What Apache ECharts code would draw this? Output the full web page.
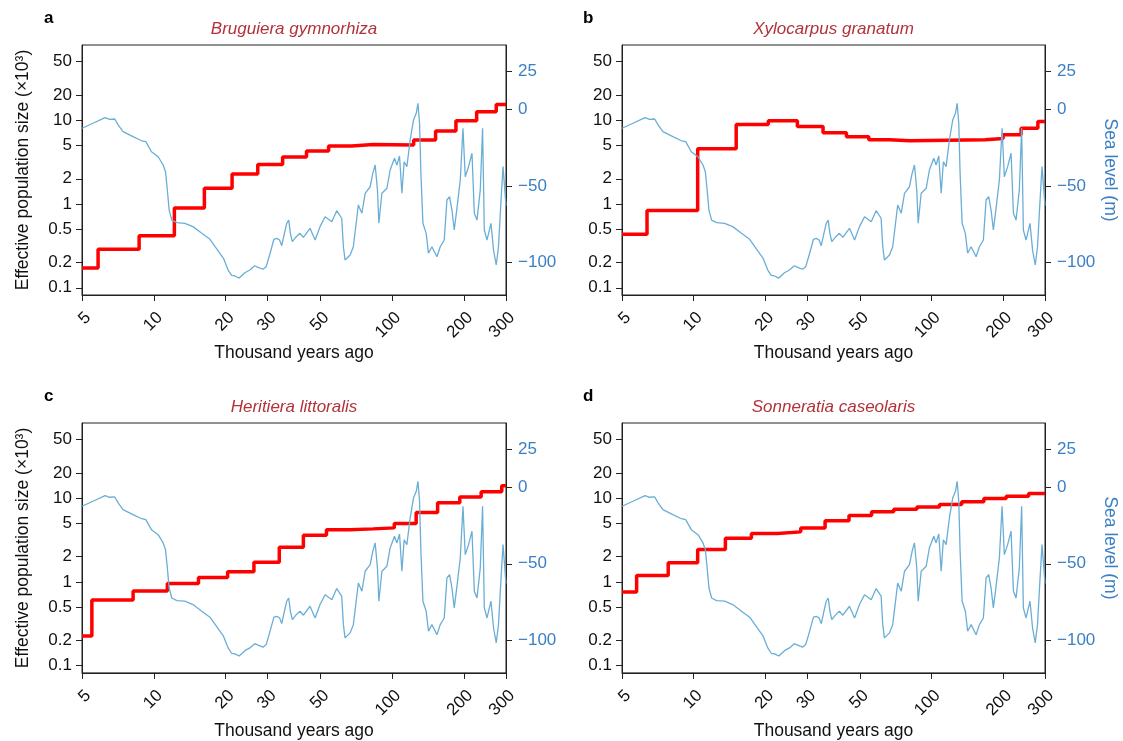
<!DOCTYPE html>
<html><head><meta charset="utf-8">
<script src="https://cdn.jsdelivr.net/npm/echarts@6/dist/echarts.min.js"></script>
<style>html,body{margin:0;padding:0;background:#fff}#c{width:1123px;height:741px}</style>
</head><body><div id="c"></div>
<script>
// ---- tick labels ----
const xTicks = [5, 10, 20, 30, 50, 100, 200, 300];
const neTicks = [0.1, 0.2, 0.5, 1, 2, 5, 10, 20, 50];
const seaTicks = [25, 0, -50, -100];

// ---- sea level curve (thousand years ago, metres) ----
const seaTime = [5,5.56,6.25,6.53,6.86,7.09,7.43,8.18,8.89,9.26,9.78,10.43,10.95,11.2,11.4,11.6,11.9,12.5,13.5,14.6,15.9,17.2,18.3,19.6,20.5,21.2,21.9,22.8,24.1,25.3,26.5,27.4,28.7,29.6,30.6,31.9,32.8,33.7,34.4,35.3,36.1,36.8,37.4,38.1,39.6,41.0,42.4,45.2,47.5,49.8,52.3,55.8,58.5,61.4,62.4,63.4,66.6,68.7,72.1,74.6,77,80.8,82.9,84.8,86.7,87.9,90.5,95,98,102.2,104.6,107.3,109.8,112.2,115.2,118.9,122.8,126.1,128.2,130.2,131.9,134.5,138.8,141.9,146.7,154,159,165.2,169.6,173.9,178,182,186.8,192.9,198,202.4,209,216,221,226.7,234,239.3,243.3,249.7,259.5,266,273,279,286,291.5,300];
const seaLevel = [-12.2,-8.9,-5.2,-6.3,-6.1,-10,-14.4,-17.7,-20.4,-21,-27.6,-30.9,-36.3,-40.7,-52.7,-65.9,-72.5,-74.2,-74.6,-76.8,-81.2,-85.1,-91,-97.6,-105.3,-108.8,-109.2,-110.6,-107.1,-105.3,-102.5,-103.5,-104.8,-103.1,-95.4,-85.1,-84.5,-85.6,-89.3,-81.2,-74.6,-72.5,-81.2,-86.7,-83.4,-81.2,-83.8,-77.9,-85.6,-76.8,-70.3,-73.6,-66.3,-71.3,-90,-98.7,-95.4,-90,-62.6,-68,-54.9,-50.6,-41.8,-36.3,-52.7,-74.6,-54.9,-51.6,-39.6,-31.9,-36.3,-30.4,-54.9,-34.2,-37.4,-19.9,-6.8,-2.4,4.2,-8.9,-41.8,-74.6,-81.2,-94.3,-90,-96.6,-90,-85.6,-59.3,-57.1,-65.9,-79,-64.8,-46.2,-12.2,-44,-37.4,-28.6,-68,-72.5,-52.7,-12.2,-79,-85.6,-74.6,-92.2,-102,-90,-59.3,-37.4,-63];

// ---- effective population size steps (start time of each step, Ne x1000) ----
const speciesNames = ['Bruguiera gymnorhiza', 'Xylocarpus granatum', 'Heritiera littoralis', 'Sonneratia caseolaris'];
const panelLetters = ['a', 'b', 'c', 'd'];
const stepTimeA = [5,5.84,8.68,12.2,16.3,21.3,27.3,34.7,43.7,54.1,67.6,83.1,123,152,185,226,273];
const neA = [0.172,0.289,0.417,0.898,1.54,2.28,2.97,3.63,4.28,4.91,5.14,5.07,5.79,7.41,9.84,12.6,15.4];
const stepTimeB = [5,6.37,10.4,15.1,20.6,27.3,35,43.9,54.5,66.6,81,98,168,200,238,280];
const neB = [0.436,0.834,4.57,8.9,9.84,8.41,7.08,6.34,5.84,5.67,5.73,5.84,6.06,6.7,8.04,9.66];
const stepTimeC = [5,5.5,8.19,11.4,15.4,20.4,26.3,33.6,42.4,53,66.4,83.1,102,126,155,192,236,288];
const neC = [0.226,0.607,0.778,0.96,1.13,1.32,1.72,2.6,3.61,4.19,4.3,4.42,4.98,6.74,8.79,10.35,11.9,14.1];
const stepTimeD = [5,5.76,7.82,10.4,13.6,17.5,22.5,28.2,35.7,45,56,69.4,86.8,108,134,166,206,256];
const neD = [0.757,1.19,1.69,2.44,3.33,3.79,3.96,4.42,5.36,6.21,6.87,7.38,7.87,8.39,9.04,9.9,10.55,11.35];

const stepTimes = [stepTimeA, stepTimeB, stepTimeC, stepTimeD];
const stepNe = [neA, neB, neC, neD];

const FONT = '"Liberation Sans", Arial, Helvetica, sans-serif';
const AXIS_COLOR = '#222';
const BLUE_TEXT = '#3b7fc4';
const BLUE_LINE = '#6aaed6';
const TITLE_RED = '#b2323a';

const grids = [
  {left: 82, top: 45, width: 424, height: 250},
  {left: 622, top: 45, width: 423, height: 250},
  {left: 82, top: 423, width: 424, height: 251},
  {left: 622, top: 423, width: 423, height: 251}
];

const minus = v => (v < 0 ? '\u2212' + Math.abs(v) : String(v));

const option = {
  animation: false,
  backgroundColor: '#fff',
  textStyle: {fontFamily: FONT},
  grid: grids.map(g => Object.assign({show: true, borderColor: AXIS_COLOR, borderWidth: 1, backgroundColor: 'transparent', containLabel: false}, g)),
  xAxis: grids.map((g, i) => ({
    type: 'log', logBase: 10, gridIndex: i, min: 5, max: 300,
    name: 'Thousand years ago', nameLocation: 'middle', nameGap: 49,
    nameTextStyle: {fontSize: 17.5, color: '#111', fontFamily: FONT},
    axisLine: {show: true, onZero: false, lineStyle: {color: AXIS_COLOR, width: 1}},
    axisTick: {show: true, length: 6, customValues: xTicks, lineStyle: {color: AXIS_COLOR}},
    axisLabel: {show: true, rotate: 45, margin: 14, fontSize: 17, color: '#111', fontFamily: FONT,
      verticalAlign: 'top', customValues: xTicks, formatter: v => String(Math.round(v))},
    splitLine: {show: false}, minorTick: {show: false}
  })),
  yAxis: [],
  series: [],
  graphic: []
};

grids.forEach((g, i) => {
  const leftName = (i === 0 || i === 2);
  option.yAxis.push({
    type: 'log', logBase: 10, gridIndex: i, position: 'left', min: 0.082, max: 79,
    name: leftName ? 'Effective population size (×10³)' : '',
    nameLocation: 'middle', nameGap: 50, nameRotate: 90,
    nameTextStyle: {fontSize: 17.5, color: '#111', fontFamily: FONT},
    axisLine: {show: true, onZero: false, lineStyle: {color: AXIS_COLOR, width: 1}},
    axisTick: {show: true, length: 6, customValues: neTicks, lineStyle: {color: AXIS_COLOR}},
    axisLabel: {show: true, margin: 10, fontSize: 17, color: '#111', fontFamily: FONT,
      customValues: neTicks, formatter: v => String(+v.toPrecision(2))},
    splitLine: {show: false}, minorTick: {show: false}
  });
  option.yAxis.push({
    type: 'value', gridIndex: i, position: 'right', min: -121.7, max: 42.5,
    name: leftName ? '' : 'Sea level (m)',
    nameLocation: 'middle', nameGap: 56, nameRotate: -90,
    nameTextStyle: {fontSize: 17.5, color: BLUE_TEXT, fontFamily: FONT},
    axisLine: {show: true, onZero: false, lineStyle: {color: AXIS_COLOR, width: 1}},
    axisTick: {show: true, length: 6, customValues: seaTicks, lineStyle: {color: AXIS_COLOR}},
    axisLabel: {show: true, margin: 12, fontSize: 17, color: BLUE_TEXT, fontFamily: FONT,
      customValues: seaTicks, formatter: minus},
    splitLine: {show: false}, minorTick: {show: false}
  });

  const times = stepTimes[i], ne = stepNe[i];
  const stepData = times.map((t, k) => [t, ne[k]]);
  stepData.push([300, ne[ne.length - 1]]);
  option.series.push({
    type: 'line', xAxisIndex: i, yAxisIndex: 2 * i, step: 'end', data: stepData,
    showSymbol: false, symbol: 'none', lineStyle: {color: '#ff0000', width: 3.5}, z: 2, clip: true
  });
  option.series.push({
    type: 'line', xAxisIndex: i, yAxisIndex: 2 * i + 1,
    data: seaTime.map((t, k) => [t, seaLevel[k]]),
    showSymbol: false, symbol: 'none', lineStyle: {color: BLUE_LINE, width: 1.3}, z: 3, clip: true
  });

  option.graphic.push({
    type: 'text', x: g.left + g.width / 2, y: g.top - 24,
    style: {text: speciesNames[i], fill: TITLE_RED, font: 'italic 17px ' + FONT, textAlign: 'center'}
  });
  option.graphic.push({
    type: 'text', x: (i % 2 === 0) ? 44 : 583, y: g.top - 35,
    style: {text: panelLetters[i], fill: '#000', font: 'bold 17px ' + FONT}
  });
});

const chart = echarts.init(document.getElementById('c'), null, {renderer: 'canvas'});
chart.setOption(option);
</script>
</body></html>
